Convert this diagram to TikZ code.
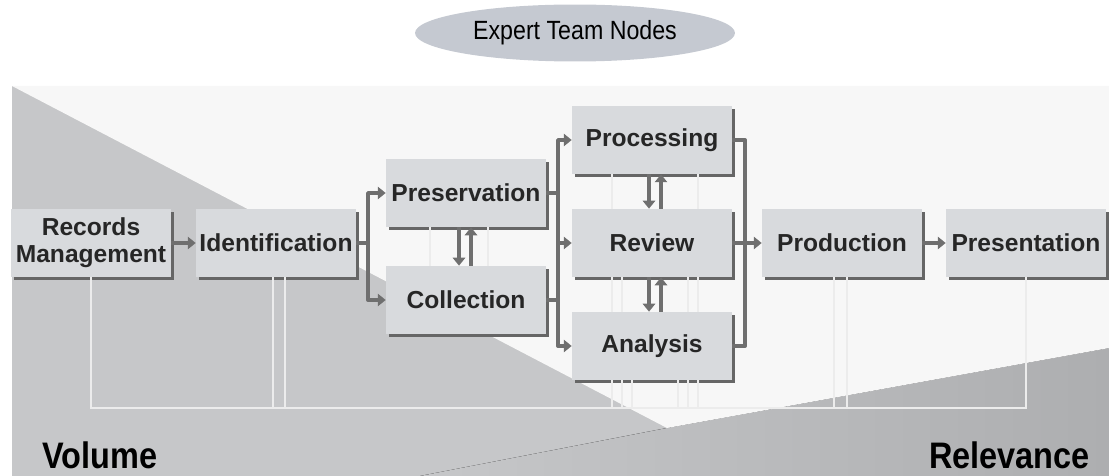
\documentclass[tikz,border=0pt]{standalone}
\usepackage{fontspec}
\setmainfont{Liberation Sans}
\newfontfamily\narrowfont[FakeStretch=0.88]{Liberation Sans}
\usetikzlibrary{arrows.meta,shapes.geometric,shadows}
\definecolor{boxgray}{HTML}{D8DADD}
\definecolor{flowgray}{HTML}{6F6F6F}
\definecolor{fbgray}{HTML}{ECECEC}
\definecolor{teamgray}{HTML}{C5C9D1}
\definecolor{volgray}{HTML}{C6C7C9}
\definecolor{relgray}{HTML}{ADAEB0}
\definecolor{midwhite}{HTML}{F7F7F7}
\definecolor{inkgray}{HTML}{262626}
\tikzset{
  stage/.style={fill=boxgray, minimum width=3.2cm, minimum height=1.36cm, inner sep=1pt,
    align=center, text=inkgray, font=\bfseries\fontsize{14}{15.5}\selectfont,
    drop shadow={shadow xshift=0.06cm, shadow yshift=-0.06cm, fill=black!60, opacity=1}},
  flow/.style={draw=flowgray, line width=2.2pt, line join=round},
  fback/.style={draw=fbgray, line width=1.6pt},
}
\begin{document}
\begin{tikzpicture}[x=0.02cm, y=-0.02cm, >={Triangle[length=4.5pt,width=7pt]}]
    \useasboundingbox (0,0) rectangle (1109,476);
    % background: volume and relevance wedges
    \fill[volgray] (12,86) rectangle (1109,476);
    \fill[left color=volgray, right color=relgray] (667,428) -- (1109,348) -- (1109,476) -- (420,476) -- cycle;
    \fill[midwhite] (12,86) -- (1109,86) -- (1109,348) -- (667,428) -- cycle;

    \node[ellipse, fill=teamgray, minimum width=6.4cm, minimum height=1.14cm, text=black,
      font=\narrowfont\fontsize{15}{15}\selectfont] (etn) at (575,33) {Expert Team Nodes};

    \node[stage] (rm) at (91,243) {Records\\Management};
    \node[stage] (id) at (276,243) {Identification};
    \node[stage] (pres) at (466,193) {Preservation};
    \node[stage] (coll) at (466,300) {Collection};
    \node[stage] (proc) at (652,140) {Processing};
    \node[stage] (rev) at (652,243) {Review};
    \node[stage] (ana) at (652,346) {Analysis};
    \node[stage] (prod) at (842,243) {Production};
    \node[stage] (prst) at (1026,243) {Presentation};

    \node[anchor=base west, text=black, font=\narrowfont\bfseries\fontsize{21}{21}\selectfont] (vol) at (36,468) {Volume};
    \node[anchor=base east, text=black, font=\narrowfont\bfseries\fontsize{21}{21}\selectfont] (relv) at (1096,468) {Relevance};

    \coordinate (b1) at (368,0);
    \coordinate (b2) at (558,0);
    \coordinate (b3) at (745,0);
    \coordinate (fb) at (0,408);

    % feedback lines
    \draw[fback] (rm.south) -- (rm.south |- fb) -- (prst.south |- fb) -- (prst.south);
    \foreach \dx in {-3,9} \draw[fback] (id.south) ++(\dx,0) coordinate (t) -- (t |- fb);
    \foreach \dx in {-8,5} \draw[fback] (prod.south) ++(\dx,0) coordinate (t) -- (t |- fb);
    \foreach \dx in {-40,-30,-20,26,36,46} \draw[fback] (ana.south) ++(\dx,0) coordinate (t) -- (t |- fb);
    \foreach \dx in {-40,-30,36,46} \draw[fback] (rev.south) ++(\dx,0) coordinate (t) -- (t |- ana.north);
    \foreach \dx in {-40,46} \draw[fback] (proc.south) ++(\dx,0) coordinate (t) -- (t |- rev.north);
    \foreach \dx in {-36,22} \draw[fback] (pres.south) ++(\dx,0) coordinate (t) -- (t |- coll.north);

    % main flow
    \draw[flow,->] (rm) -- (id);
    \draw[flow] (id.east) -- (b1 |- id);
    \draw[flow,<->] (pres.west) -| (b1 |- id) |- (coll.west);
    \draw[flow] (pres.east) -- (b2 |- pres);
    \draw[flow] (coll.east) -- (b2 |- coll);
    \draw[flow,<->] (proc.west) -| (b2 |- rev) |- (ana.west);
    \draw[flow,->] (b2 |- rev) -- (rev.west);
    \draw[flow] (proc.east) -| (b3 |- rev) |- (ana.east);
    \draw[flow] (rev.east) -- (b3 |- rev);
    \draw[flow,->] (b3 |- rev) -- (prod.west);
    \draw[flow,->] (prod) -- (prst);

    % iterations between stages
    \draw[flow,->] ([xshift=-0.14cm]pres.south) -- ([xshift=-0.14cm]coll.north);
    \draw[flow,->] ([xshift=0.1cm]coll.north) -- ([xshift=0.1cm]pres.south);
    \draw[flow,->] ([xshift=-0.06cm]proc.south) -- ([xshift=-0.06cm]rev.north);
    \draw[flow,->] ([xshift=0.18cm]rev.north) -- ([xshift=0.18cm]proc.south);
    \draw[flow,->] ([xshift=-0.06cm]rev.south) -- ([xshift=-0.06cm]ana.north);
    \draw[flow,->] ([xshift=0.18cm]ana.north) -- ([xshift=0.18cm]rev.south);
\end{tikzpicture}
\end{document}
